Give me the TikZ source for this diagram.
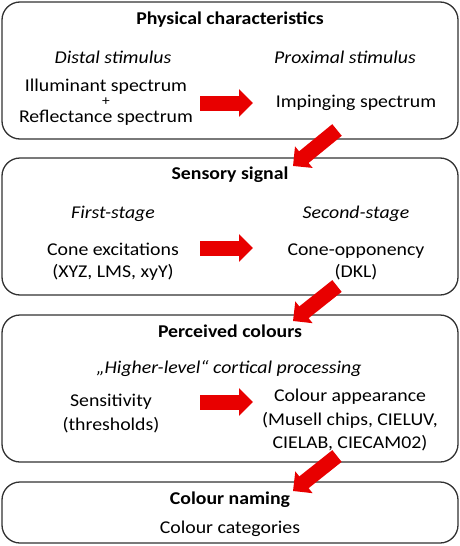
\documentclass[tikz,border=0pt]{standalone}
\usepackage{fontspec}
\setmainfont[FakeStretch=1.1]{Carlito}
\usetikzlibrary{arrows.meta}
\definecolor{arrowred}{RGB}{232,0,0}
\definecolor{frame}{RGB}{50,50,50}
\tikzset{
  panel/.style={draw=frame, line width=1.3pt, rounded corners=18pt, fill=white, inner sep=0pt},
  txt/.style={inner sep=0pt, anchor=base, font=\fontsize{18}{22}\selectfont},
  ttl/.style={txt, font=\fontsize{18}{22}\selectfont\bfseries},
  itl/.style={txt, font=\fontsize{18}{22}\selectfont\itshape},
  bigarrow/.style={draw=arrowred, line width=15pt, -{Triangle[length=14pt, width=27pt]}}
}
\newcommand{\tightlines}{\lineskiplimit=-20pt\relax\lineskip=0pt\relax}
\begin{document}
\begin{tikzpicture}[x=1pt,y=-1pt]
\useasboundingbox (0,0) rectangle (460,546);
% panels
\node[panel, minimum width=456pt, minimum height=137pt] (b1) at (230,70.5) {};
\node[panel, minimum width=456pt, minimum height=137pt] (b2) at (230,226.5) {};
\node[panel, minimum width=456pt, minimum height=147pt] (b3) at (230,388.5) {};
\node[panel, minimum width=456pt, minimum height=61pt] (b4) at (230,512.5) {};
% panel 1
\node[ttl] (t1) at (230,24) {Physical characteristics};
\node[itl] (distal) at (113,63) {Distal stimulus};
\node[itl] (proximal) at (345,63) {Proximal stimulus};
\node[txt, align=center, font=\fontsize{18}{15.5}\selectfont] (spectra) at (106,122)
  {\tightlines Illuminant spectrum\\\raisebox{1.5pt}{\fontsize{14}{15.5}\selectfont +}\\Reflectance spectrum};
\node[txt] (imping) at (356,107.5) {Impinging spectrum};
% panel 2
\node[ttl] (t2) at (230,179.5) {Sensory signal};
\node[itl] (first) at (113,218) {First-stage};
\node[itl] (second) at (356,218) {Second-stage};
\node[txt] (cone) at (113,255) {Cone excitations};
\node[txt] (xyz) at (113,277.5) {(XYZ, LMS, xyY)};
\node[txt] (opp) at (356,255) {Cone-opponency};
\node[txt] (dkl) at (356,277.5) {(DKL)};
% panel 3
\node[ttl] (t3) at (230,337.5) {Perceived colours};
\node[itl] (higher) at (229,373) {„Higher-level“ cortical processing};
\node[txt] (sens) at (111,406.5) {Sensitivity};
\node[txt] (thr) at (111,430) {(thresholds)};
\node[txt] (app) at (350,401.5) {Colour appearance};
\node[txt] (mun) at (350,425) {(Musell chips, CIELUV,};
\node[txt] (cielab) at (350,448.3) {CIELAB, CIECAM02)};
% panel 4
\node[ttl] (t4) at (230,504) {Colour naming};
\node[txt] (cat) at (230,533.3) {Colour categories};
% arrow end points
\coordinate (h1s) at (200,103); \coordinate (h1e) at (253,103);
\coordinate (h2s) at (200,248); \coordinate (h2e) at (253,248);
\coordinate (h3s) at (200,402); \coordinate (h3e) at (253,402);
\coordinate (d1s) at (337,130); \coordinate (d1e) at (293,166);
\coordinate (d2s) at (337,286); \coordinate (d2e) at (293,321);
\coordinate (d3s) at (337,456); \coordinate (d3e) at (293,491);
\draw[bigarrow] (h1s) -- (h1e);
\draw[bigarrow] (h2s) -- (h2e);
\draw[bigarrow] (h3s) -- (h3e);
\draw[bigarrow] (d1s) -- (d1e);
\draw[bigarrow] (d2s) -- (d2e);
\draw[bigarrow] (d3s) -- (d3e);
\end{tikzpicture}
\end{document}
